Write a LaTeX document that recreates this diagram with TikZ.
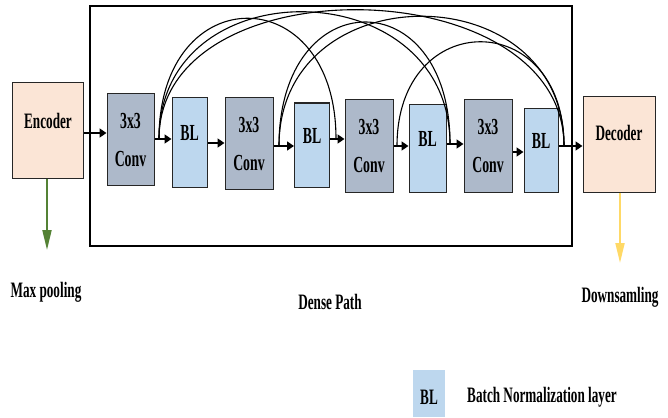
\documentclass[tikz,border=0pt]{standalone}
\usepackage{fontspec}
\setmainfont{Liberation Serif}[FakeStretch=0.6]
\usetikzlibrary{arrows.meta}
\definecolor{convc}{HTML}{ADB9CA}
\definecolor{blc}{HTML}{BDD7EE}
\definecolor{encc}{HTML}{FBE5D6}
\definecolor{grn}{HTML}{548235}
\definecolor{ylw}{HTML}{FFD966}
\begin{document}
\begin{tikzpicture}[x=1pt,y=-1pt,
  box/.style={draw=black!85, line width=1pt, inner sep=0pt},
  convbox/.style={box, fill=convc, minimum width=47pt, minimum height=91pt, align=center,
    font=\bfseries\fontsize{23}{38}\selectfont},
  blbox/.style={box, fill=blc, minimum width=35pt, font=\bfseries\fontsize{23}{26}\selectfont,
    text height=15pt, text depth=19pt},
  iobox/.style={box, fill=encc, minimum width=71pt, minimum height=95pt,
    font=\bfseries\fontsize{22}{26}\selectfont},
  lbl/.style={font=\bfseries\fontsize{22}{26}\selectfont, inner sep=0pt},
  arr/.style={line width=1.5pt, -{Triangle[length=7pt,width=9pt]}},
  dense/.style={line width=1.1pt, black},
  down/.style={line width=2pt, -{Triangle[length=20pt,width=9pt]}}
]
\useasboundingbox (0,0) rectangle (668,417);

% outer frame
\draw[line width=1.5pt] (90,6) rectangle (572,246);

% blocks
\node[iobox, text height=15pt, text depth=20pt] (enc) at (48,130.5) {Encoder};
\node[convbox] (conv1) at (130.5,139.5) {3x3\\Conv};
\node[blbox, minimum height=89pt] (bl1) at (189.5,142.5) {BL};
\node[convbox, minimum width=48pt] (conv2) at (249,143.5) {3x3\\Conv};
\node[blbox, minimum height=84pt] (bl2) at (312,145) {BL};
\node[convbox, minimum width=48pt, minimum height=92pt] (conv3) at (369,146) {3x3\\Conv};
\node[blbox, minimum width=37pt, minimum height=88pt] (bl3) at (427.5,148) {BL};
\node[convbox, minimum width=48pt, minimum height=92pt] (conv4) at (488,146) {3x3\\Conv};
\node[blbox, minimum width=34pt, minimum height=84pt] (bl4) at (541,150) {BL};
\node[iobox, minimum width=72pt, text height=15pt, text depth=23pt] (dec) at (619,144.5) {Decoder};

% arrow heights
\coordinate (a0) at (0,133);
\coordinate (a1) at (0,139);
\coordinate (a2) at (0,143);
\coordinate (a3) at (0,146);
\coordinate (a4) at (0,139);
\coordinate (a5) at (0,146);
\coordinate (a6) at (0,144);
\coordinate (a7) at (0,152);
\coordinate (a8) at (0,146);

\draw[arr] (enc.east |- a0) -- (conv1.west |- a0);
\draw[arr] (conv1.east |- a1) -- (bl1.west |- a1);
\draw[arr] (bl1.east |- a2) -- (conv2.west |- a2);
\draw[arr] (conv2.east |- a3) -- (bl2.west |- a3);
\draw[arr] (bl2.east |- a4) -- (conv3.west |- a4);
\draw[arr] (conv3.east |- a5) -- (bl3.west |- a5);
\draw[arr] (bl3.east |- a6) -- (conv4.west |- a6);
\draw[arr] (conv4.east |- a7) -- (bl4.west |- a7);
\draw[arr] (bl4.east |- a8) -- (dec.west |- a8);

% dense connections
\coordinate (p1) at (159,139);
\coordinate (p2) at (279,146);
\coordinate (p3) at (397,146);
\coordinate (e1) at (336,139);
\coordinate (e2) at (450,144);
\coordinate (e3) at (564,146);

\draw[dense] (p1) .. controls +(0,-161) and +(0,-161) .. (e1);
\draw[dense] (p1) .. controls +(0,-173) and +(0,-173) .. (e2);
\draw[dense] (p1) .. controls +(0,-177) and +(0,-177) .. (e3);
\draw[dense] (p2) .. controls +(0,-164) and +(0,-164) .. (e2);
\draw[dense] (p2) .. controls +(0,-173) and +(0,-173) .. (e3);
\draw[dense] (p3) .. controls +(0,-139) and +(0,-139) .. (e3);

% outputs
\coordinate (gEnd) at (47,250);
\coordinate (yEnd) at (620,263);
\draw[down, grn] (enc.south -| gEnd) -- (gEnd);
\draw[down, ylw] (dec.south -| yEnd) -- (yEnd);

% labels
\node[lbl] (mp) at (46,292) {Max pooling};
\node[lbl] (dp) at (330,302) {Dense Path};
\node[lbl] (ds) at (620,297) {Downsamling};

% legend
\fill[blc] (413,370) rectangle (445,417);
\node[lbl] (lgbl) at (429,397) {BL};
\node[lbl, anchor=west] (lgtx) at (467,397) {Batch Normalization layer};
\end{tikzpicture}
\end{document}
